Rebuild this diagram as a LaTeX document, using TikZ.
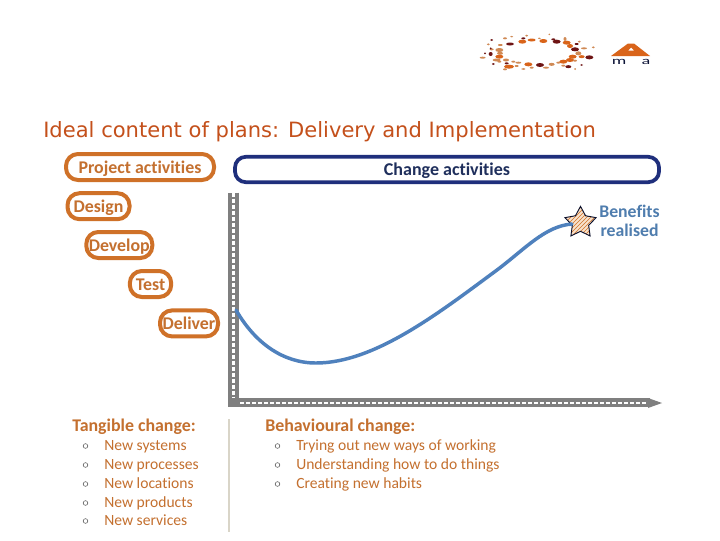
\documentclass[tikz,border=0pt]{standalone}
\usepackage{fontspec}
\setmainfont[Ligatures=NoCommon]{Carlito}
\newfontfamily\titlefont{DejaVu Sans}
\usetikzlibrary{shapes.geometric,patterns}
\definecolor{orangeline}{HTML}{CF7128}
\definecolor{orangetext}{HTML}{C4702F}
\definecolor{navy}{HTML}{1F2F7C}
\definecolor{navytext}{HTML}{1F2F5C}
\definecolor{bluecurve}{HTML}{4F81BD}
\definecolor{bluetext}{HTML}{4F7DAE}
\definecolor{axisgray}{HTML}{7F7F7F}
\definecolor{titlecol}{HTML}{C4501B}
\definecolor{logoa}{HTML}{D9641A}
\definecolor{logob}{HTML}{D08A55}
\definecolor{logoc}{HTML}{6E1414}
\definecolor{dividercol}{HTML}{D9D5C8}
\definecolor{starfill}{HTML}{F8E2CC}
\tikzset{
  x=0.75pt,y=-0.75pt,
  orangebox/.style={draw=orangeline,line width=3pt,rounded corners=9pt,inner sep=0pt,text=orangetext,text height=10.5pt,text depth=1.5pt,font=\bfseries\fontsize{13.4}{15}\selectfont},
  headtext/.style={text=orangetext,font=\bfseries\fontsize{13.4}{15}\selectfont,anchor=base west,inner sep=0pt},
  itemtext/.style={text=orangetext,font=\fontsize{11.7}{13}\selectfont,anchor=base west,inner sep=0pt},
  bulletmark/.style={circle,draw=black!65,line width=0.4pt,minimum size=3.5pt,inner sep=0pt},
  axisbar/.style={line width=8pt,draw=axisgray},
  axisdash/.style={line width=2.2pt,draw=white,dash pattern=on 3pt off 1.5pt},
  la/.style={fill=logoa,draw=none},
  lb/.style={fill=logob,draw=none},
  lc/.style={fill=logoc,draw=none},
}
\begin{document}
\begin{tikzpicture}
\useasboundingbox (0,0) rectangle (720,540);
\fill[white] (0,0) rectangle (720,540);
% logo
\foreach \px/\py/\rx/\ry/\st in {
68/113/3/1/lb,95/60/1.5/1/lc,85/73/1.5/1/lb,120/75/2/1/lb,150/72/4/1.5/lc,135/55/2/1/lb,155/50/1.5/0.8/lb,
187/65/4/2/la,190/55/2/1/lc,200/47/1.5/1/lb,215/60/4/1.5/la,250/63/4/2/la,238/55/1.5/0.8/lb,268/43/1/0.8/lb,
280/58/2/1/lc,290/65/4/2/lc,315/57/1.5/2/lb,320/68/4/2/la,330/78/3/2/la,358/65/1.5/1/lb,350/72/2/1/lc,
345/88/4/2/lc,400/82/1.5/1/lb,372/85/3/1/lb,355/100/3/2/lb,338/110/4/2/la,388/112/4/2/lc,365/110/3/1.5/la,
330/120/4/2/la,310/125/4/2/la,295/128/2/1/lb,345/122/2/1/lb,365/135/1.5/0.8/lc,325/140/3/1.5/lc,310/137/2/1/lb,
345/147/1/1/lb,275/133/3/1.5/lb,258/143/3/1/lb,240/135/4/2/lc,205/133/4/2/la,215/143/2/1/lb,190/147/2/0.8/lb,
175/128/3/1/lb,147/140/5/2/la,135/148/2/1/lb,170/138/2/1/lb,160/125/2/1/lb,140/130/2/1/lc,138/120/3/1.5/lb,
118/110/4/2/la,110/120/4/1.5/lb,100/132/1.5/1/lc,118/125/2/1/lb,92/102/2/2/lc,95/88/2/1/lb,75/100/1/1/lc,
118/90/4/2/lb,120/100/3/1.5/lb,122/75/2/1/lb,92/85/1/1/lc}
  \fill[\st] ({460+\px/3},{20+\py/3}) ellipse [x radius=\rx,y radius=\ry];
\fill[logoa,even odd rule] (628,43.5) -- (634,43.5) -- (650,56) -- (611,56) -- cycle (628,50.5) -- (634,50.5) -- (631,47.5) -- cycle;
\node[inner sep=0pt,text=black!55!navy,xscale=1.7,font=\fontsize{8}{9}\selectfont] (logom) at (619,62) {m};
\node[inner sep=0pt,text=black!55!navy,xscale=1.7,font=\fontsize{8}{9}\selectfont] (logoa) at (646,62) {a};
% title
\node[anchor=base west,inner sep=0pt,text=titlecol,font=\titlefont\fontsize{15.8}{18}\selectfont] (title) at (43,137) {Ideal content of plans: Delivery and Implementation};
% change bar
\node[draw=navy,line width=2.8pt,rounded corners=8pt,minimum width=318pt,minimum height=19pt,inner sep=0pt,text=navytext,text height=10.5pt,text depth=1.5pt,font=\bfseries\fontsize{13.5}{15}\selectfont] (change) at (447,169.5) {Change activities};
% orange boxes
\node[orangebox,minimum width=111pt,minimum height=19.5pt] (project) at (140,167) {Project activities};
\node[orangebox,minimum width=46.5pt,minimum height=19.5pt] (design) at (98.5,206.2) {Design};
\node[orangebox,minimum width=49.5pt,minimum height=19.5pt] (develop) at (119.3,245) {Develop};
\node[orangebox,minimum width=31pt,minimum height=19.5pt] (test) at (150.5,284) {Test};
\node[orangebox,minimum width=43.5pt,minimum height=19.5pt] (deliver) at (189,323.4) {Deliver};
% axes
\coordinate (origin) at (233.5,406.5);
\coordinate (ytop) at (233.5,192.5);
\coordinate (xstart) at (228,402.5);
\coordinate (xdash) at (240,403);
\coordinate (xend) at (650,402.5);
\coordinate (xend2) at (648,403);
\draw[axisbar] (ytop) -- (origin);
\draw[axisdash] (ytop) -- (origin);
\draw[axisbar,line width=6.2pt] (xstart) -- (xend);
\draw[axisdash,line width=1.6pt] (xdash) -- (xend2);
\fill[axisgray] (648,398) -- (662,403) -- (648,408) -- cycle;
% star
\node[star,star points=5,star point ratio=1.9,minimum size=24.5pt,inner sep=0pt,draw=black!65!navy,line width=0.7pt,preaction={fill=starfill},pattern=north east lines,pattern color=orangeline] (goal) at (580.5,222.7) {};
% curve
\coordinate (curvestart) at (236,310);
\coordinate (curveend) at (572,224);
\draw[bluecurve,line width=2.6pt,line cap=round] (curvestart) .. controls (255,343) and (283,363) .. (316,363)
  .. controls (375,363) and (440,312) .. (497,270) .. controls (525,249) and (545,226) .. (curveend);
% benefits
\node[align=center,text=bluetext,font=\bfseries\fontsize{13.3}{14.3}\selectfont,inner sep=0pt] (benefits) at (629.5,220.5) {Benefits\\realised};
% lower left
\node[headtext] (tangible) at (72,431.7) {Tangible change:};
\foreach \nm/\yy/\tx in {ta/450/New systems,tb/469/New processes,tc/488/New locations,td/507/New products,te/525/New services}{
  \node[bulletmark] (\nm b) at (85.5,\yy-4) {};
  \node[itemtext] (\nm) at (104,\yy) {\tx};
}
\coordinate (divtop) at (229,419);
\coordinate (divbot) at (229,532);
\draw[dividercol,line width=1.2pt] (divtop) -- (divbot);
\node[headtext] (behav) at (265,431.7) {Behavioural change:};
\foreach \nm/\yy/\tx in {ba/450/Trying out new ways of working,bb/469/Understanding how to do things,bc/488/Creating new habits}{
  \node[bulletmark] (\nm b) at (277.5,\yy-4) {};
  \node[itemtext] (\nm) at (296,\yy) {\tx};
}
\end{tikzpicture}
\end{document}
